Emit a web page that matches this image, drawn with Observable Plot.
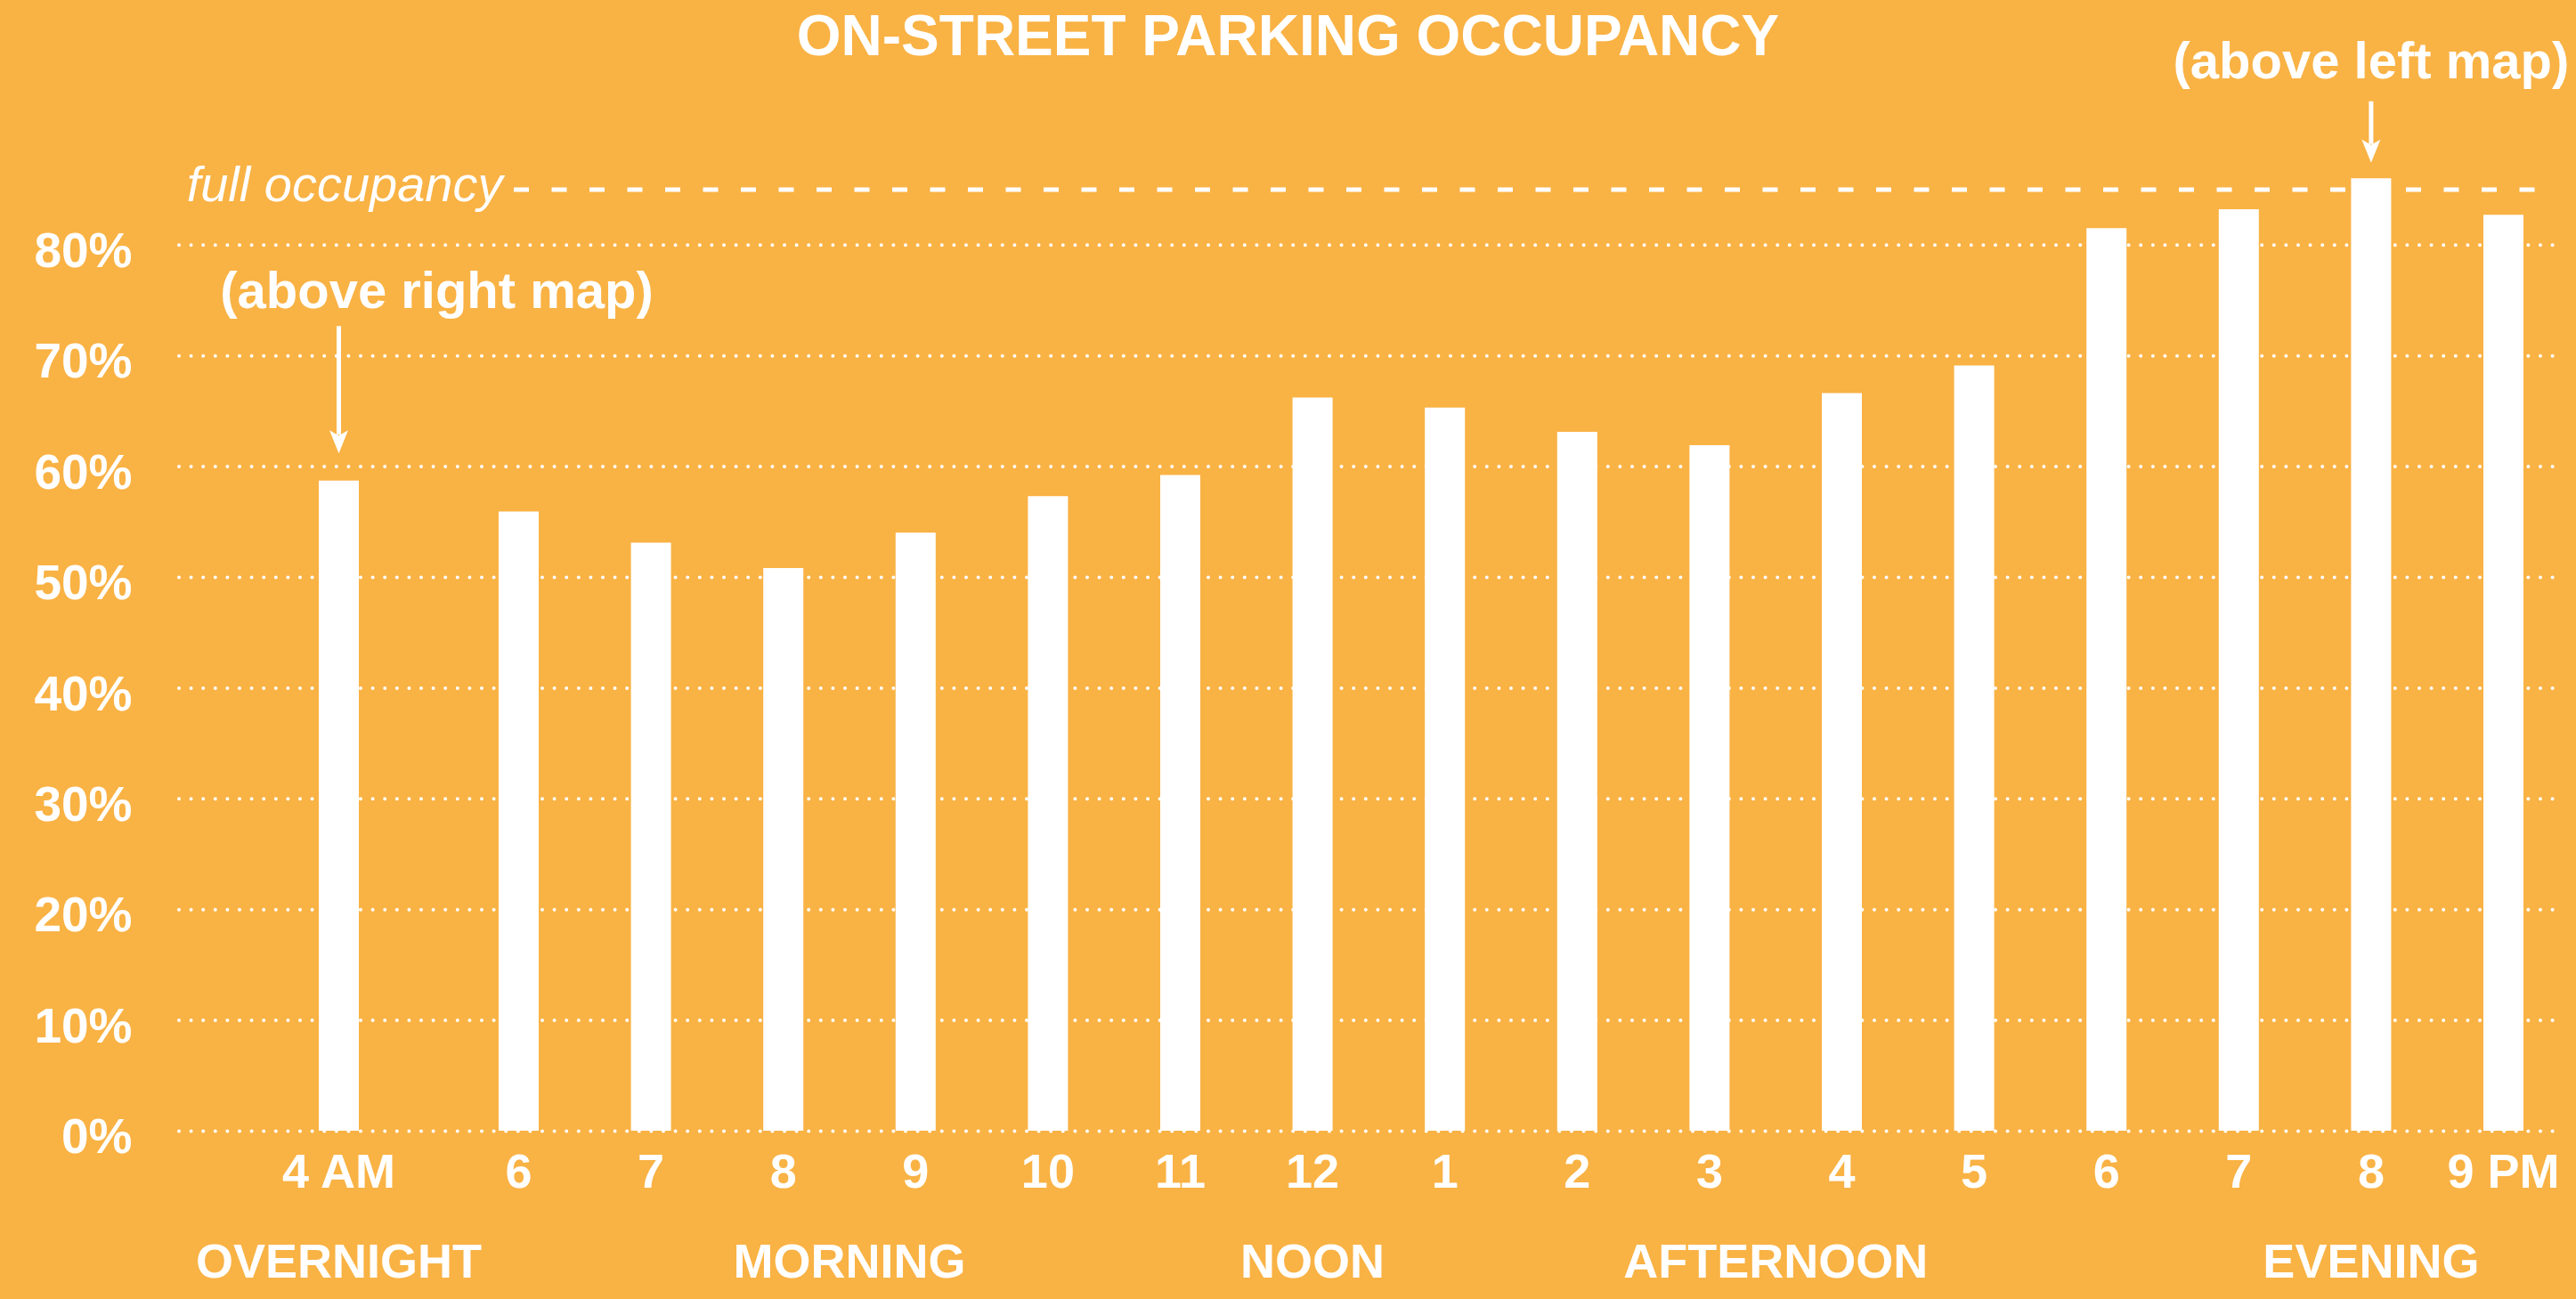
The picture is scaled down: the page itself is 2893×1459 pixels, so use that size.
<!DOCTYPE html>
<html>
<head>
<meta charset="utf-8">
<script src="https://cdn.jsdelivr.net/npm/d3@7"></script>
<script src="https://cdn.jsdelivr.net/npm/@observablehq/plot@0.6"></script>
<style>
  html, body { margin: 0; padding: 0; background: #F9B244; overflow: hidden; }
  #wrap { position: relative; width: 2893px; height: 1459px; }
  #title {
    position: absolute; top: 8px; left: 0; width: 2893px; text-align: center;
    color: #fff; font-family: "Liberation Sans", Arial, sans-serif;
    font-weight: bold; font-size: 64px; line-height: 64px;
  }
</style>
</head>
<body>
<div id="wrap">
  <div id="chart"></div>
  <div id="title">ON-STREET PARKING OCCUPANCY</div>
</div>
<script>
// ---- data ----
const hours = [4, 6, 7, 8, 9, 10, 11, 12, 13, 14, 15, 16, 17, 18, 19, 20, 21];
const hourLabels = ["4 AM", "6", "7", "8", "9", "10", "11", "12", "1", "2", "3", "4", "5", "6", "7", "8", "9 PM"];
const occupancy = [0.587, 0.559, 0.531, 0.508, 0.540, 0.573, 0.592, 0.662, 0.653, 0.631, 0.619, 0.666, 0.691, 0.815, 0.832, 0.860, 0.827];
const periods = ["OVERNIGHT", "MORNING", "NOON", "AFTERNOON", "EVENING"];
const periodHours = [4, 8.5, 12, 15.5, 20];
const yTicks = [0, 0.1, 0.2, 0.3, 0.4, 0.5, 0.6, 0.7, 0.8];
const fullOccupancy = 0.85;
const fullOccupancyLabel = "full occupancy";
const annotationHours = [4, 20];
const annotationLabels = ["(above right map)", "(above left map)"];

// ---- build ----
const FONT = '"Liberation Sans", Arial, sans-serif';
const data = hours.map((h, i) => ({h, label: hourLabels[i], v: occupancy[i]}));
const ann = annotationHours.map((h, i) => ({h, label: annotationLabels[i], v: occupancy[hours.indexOf(h)]}));

// arrow drawn as a custom symbol: tip at the origin, pointing down
function dartArrow(len) {
  return {
    draw(ctx) {
      ctx.moveTo(0, 0); ctx.lineTo(-10.5, -26); ctx.lineTo(0, -20); ctx.lineTo(10.5, -26); ctx.closePath();
      ctx.moveTo(-2.5, -21); ctx.lineTo(-2.5, -len); ctx.lineTo(2.5, -len); ctx.lineTo(2.5, -21); ctx.closePath();
    }
  };
}
const annStyle = [
  {textDx: 110, textDy: -213, tipDy: -31, len: 143},
  {textDx: 0, textDy: -131, tipDy: -18, len: 69}
];
const annMarks = ann.flatMap((a, i) => [
  Plot.text([a], {x: "h", y: "v", text: "label", dx: annStyle[i].textDx, dy: annStyle[i].textDy,
    fill: "white", fontSize: 58, fontWeight: "bold"}),
  Plot.dot([a], {x: "h", y: "v", dy: annStyle[i].tipDy, symbol: dartArrow(annStyle[i].len), fill: "white", r: 5})
]);

const chart = Plot.plot({
  width: 2893,
  height: 1459,
  marginLeft: 201,
  marginRight: 25,
  marginTop: 26,
  marginBottom: 189,
  x: {type: "linear", domain: [4, 6, 21], range: [380, 582, 2811], axis: null},
  y: {domain: [0, 1], axis: null},
  style: {background: "transparent", fontFamily: FONT, overflow: "visible"},
  marks: [
    Plot.ruleY(yTicks, {stroke: "white", strokeWidth: 4, strokeDasharray: "0,13.6", strokeLinecap: "round"}),
    Plot.ruleY([fullOccupancy], {stroke: "white", strokeWidth: 5, strokeDasharray: "17,25.5", insetLeft: 376, insetRight: -4}),
    Plot.ruleX(data, {x: "h", y1: 0, y2: "v", stroke: "white", strokeWidth: 45}),
    Plot.text(yTicks, {y: d => d, frameAnchor: "left", dx: -53, dy: 7, textAnchor: "end",
      text: d => d3.format(".0%")(d), fill: "white", fontSize: 55, fontWeight: "bold"}),
    Plot.text(data, {x: "h", frameAnchor: "bottom", dy: 63, text: "label", fill: "white", fontSize: 54, fontWeight: "bold"}),
    Plot.text(periods, {x: (d, i) => periodHours[i], frameAnchor: "bottom", dy: 164, text: d => d,
      fill: "white", fontSize: 54, fontWeight: "bold"}),
    Plot.text([fullOccupancy], {y: d => d, frameAnchor: "left", dx: 363, dy: -5, textAnchor: "end",
      text: () => fullOccupancyLabel, fill: "white", fontSize: 56, fontStyle: "italic"}),
    ...annMarks
  ]
});
document.getElementById("chart").appendChild(chart);
</script>
</body>
</html>
